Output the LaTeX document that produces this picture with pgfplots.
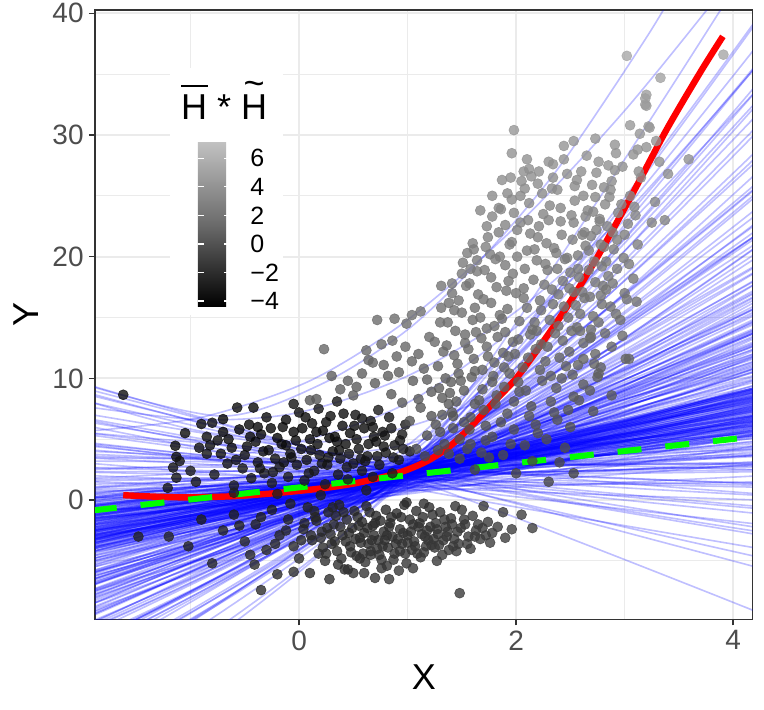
\documentclass[border=0pt]{standalone}
\usepackage{fontspec}
\setmainfont{Liberation Sans}
\usepackage{pgfplots}
\usepackage{pgfplotstable}
\pgfplotsset{compat=1.18}
\usetikzlibrary{calc}
\definecolor{gridc}{HTML}{EBEBEB}
\definecolor{bord}{HTML}{333333}
\definecolor{tickc}{HTML}{4D4D4D}
\definecolor{lgreen}{HTML}{00FF00}

\pgfplotstableread{
x y c
-1.62 8.65 -3.6
-1.21 1.0 -3.2
-1.16 2.67 -3.5
-1.13 3.55 -3.8
-1.14 4.46 -3.9
-1.10 3.2 -3.4
-1.13 1.84 -3.3
-1.00 2.4 -3.0
-0.90 6.25 -3.8
-0.80 6.35 -3.6
-0.70 6.65 -4.1
-0.57 7.6 -3.7
-0.42 7.6 -3.9
-0.95 1.5 -3.2
-0.85 3.8 -3.4
-0.78 2.1 -3.0
-0.75 4.9 -3.7
-0.70 5.6 -4.0
-0.66 3.0 -3.3
-0.62 4.3 -3.8
-0.60 1.2 -2.9
-0.55 5.8 -4.2
-0.52 2.6 -3.2
-0.50 3.7 -3.6
-0.46 6.2 -4.0
-0.44 1.8 -3.1
-0.40 4.8 -3.9
-0.38 3.1 -3.4
-0.35 5.4 -4.1
-0.32 2.2 -3.0
-0.30 6.8 -3.8
-0.28 4.1 -3.7
-0.25 1.4 -2.8
-0.22 3.4 -3.5
-0.20 5.1 -4.3
-0.18 2.7 -3.2
-0.15 6.0 -3.9
-0.12 4.5 -3.8
-0.10 1.9 -3.0
-0.08 3.8 -3.6
-0.05 5.6 -4.0
-0.02 2.9 -3.3
0.00 7.2 -3.7
0.02 4.2 -3.9
0.05 1.6 -2.9
0.07 3.3 -3.5
0.10 5.0 -4.1
0.12 6.3 -3.8
0.14 2.4 -3.1
0.17 4.6 -3.8
0.19 3.7 -3.6
0.22 5.7 -4.0
0.24 1.3 -2.7
0.26 2.9 -3.2
0.29 6.9 -3.6
0.31 4.0 -3.7
0.33 5.2 -3.9
0.36 2.1 -3.0
0.38 3.4 -3.4
0.40 6.1 -3.8
0.43 4.6 -3.7
0.45 1.7 -2.8
0.47 5.5 -3.9
0.50 3.0 -3.2
0.52 7.0 -3.5
0.55 4.2 -3.5
0.58 2.4 -3.0
0.60 5.9 -3.8
0.63 3.6 -3.3
0.66 6.5 -3.6
0.68 1.9 -2.7
0.71 4.8 -3.6
0.74 2.9 -3.1
0.77 5.6 -3.4
0.80 3.9 -3.3
0.83 6.8 -3.2
0.86 2.2 -2.8
0.88 4.5 -3.2
0.92 3.3 -3.0
0.95 5.4 -3.1
0.98 6.2 -3.0
1.02 4.0 -2.9
-0.60 0.6 -2.8
-0.20 0.5 -2.7
0.20 0.4 -2.6
0.62 0.8 -2.6
-0.05 7.9 -3.4
0.35 8.1 -3.2
0.73 7.4 -3.0
0.18 7.5 -3.3
-0.85 5.2 -3.7
-0.48 4.4 -3.8
-0.36 2.6 -3.3
-0.26 5.9 -4.1
-0.14 3.1 -3.5
-0.03 4.9 -3.9
0.09 2.2 -3.1
0.16 5.6 -4.0
0.27 3.5 -3.5
0.35 4.8 -3.8
0.44 2.7 -3.2
0.53 5.0 -3.7
0.61 3.2 -3.3
0.69 5.2 -3.6
0.78 4.4 -3.4
0.85 5.9 -3.4
0.93 4.9 -3.2
0.41 7.1 -3.6
0.58 6.7 -3.5
-0.12 6.6 -3.9
-0.65 5.0 -3.9
-0.92 4.3 -3.6
-1.05 5.5 -3.8
-0.58 3.3 -3.5
-0.45 5.2 -4.0
-0.33 4.0 -3.7
-0.24 2.3 -3.2
-0.16 4.6 -3.8
-0.07 3.5 -3.5
0.03 5.9 -4.1
0.11 4.1 -3.8
0.21 3.0 -3.4
0.28 5.1 -3.9
0.37 4.1 -3.7
0.46 3.8 -3.5
0.51 6.1 -3.8
0.57 3.4 -3.3
0.64 4.6 -3.5
0.72 3.6 -3.3
0.79 5.3 -3.4
0.87 3.5 -3.1
0.96 4.2 -3.0
0.25 6.4 -3.7
-0.38 6.0 -4.0
-0.72 3.8 -3.6
-0.82 4.5 -3.7
0.68 6.0 -3.4
0.06 6.8 -3.8
-1.48 -3.0 -2.6
-1.20 -3.0 -2.4
-1.02 -3.8 -2.5
-0.80 -5.2 -2.3
-0.41 -5.3 -2.1
-0.35 -7.4 -2.0
-0.20 -6.1 -2.2
-0.05 -5.9 -1.9
0.10 -6.0 -2.0
-0.90 -1.6 -2.7
-0.70 -2.5 -2.5
-0.60 -1.2 -2.8
-0.50 -3.4 -2.3
-0.40 -2.0 -2.6
-0.30 -4.1 -2.2
-0.25 -0.8 -2.7
-0.18 -2.9 -2.4
-0.10 -1.6 -2.5
-0.05 -3.8 -2.1
0.00 -4.8 -2.0
0.04 -2.4 -2.3
0.08 -0.6 -2.6
0.12 -3.3 -2.2
0.15 -1.4 -2.4
0.18 -4.4 -1.9
0.21 -2.6 -2.2
0.24 -5.0 -1.8
0.27 -1.0 -2.4
0.30 -3.6 -2.0
0.32 -2.0 -2.2
0.35 -4.2 -1.8
0.37 -0.4 -2.5
0.40 -2.9 -2.0
0.42 -5.7 -1.7
0.44 -1.6 -2.2
0.47 -3.8 -1.9
0.49 -2.3 -2.1
0.51 -0.9 -2.3
0.53 -4.6 -1.7
0.56 -3.1 -1.9
0.56 -4.8 -1.8
0.58 -1.8 -2.1
0.60 -2.7 -2.0
0.62 -0.5 -2.3
0.64 -3.6 -1.8
0.66 -4.2 -1.6
0.68 -2.1 -2.0
0.70 -6.4 -1.6
0.71 -1.3 -2.1
0.73 -3.3 -1.8
0.76 -4.9 -1.6
0.76 -5.6 -1.5
0.78 -2.6 -1.9
0.80 -0.8 -2.2
0.81 -5.4 -1.6
0.82 -3.9 -1.7
0.84 -1.9 -1.9
0.86 -3.0 -1.8
0.88 -4.4 -1.6
0.90 -1.1 -2.0
0.92 -5.8 -1.4
0.93 -2.4 -1.8
0.95 -3.6 -1.7
0.97 -0.4 -2.1
0.99 -5.2 -1.5
1.00 -2.9 -1.7
1.02 -1.6 -1.9
1.04 -4.1 -1.6
1.06 -3.4 -1.6
1.08 -0.9 -1.9
1.10 -2.2 -1.7
1.12 -4.7 -1.4
1.14 -1.4 -1.8
1.16 -3.0 -1.6
1.18 -2.5 -1.6
1.20 -0.6 -1.9
1.22 -3.7 -1.5
1.25 -3.9 -1.4
1.26 -1.9 -1.6
1.28 -2.8 -1.5
1.30 -1.0 -1.7
1.33 -3.3 -1.4
1.35 -2.2 -1.5
1.38 -4.1 -1.3
1.40 -1.5 -1.6
1.43 -3.2 -1.3
1.45 -4.2 -1.3
1.46 -2.6 -1.4
1.48 -7.65 -1.2
1.50 -0.8 -1.5
1.53 -2.0 -1.4
1.56 -3.0 -1.3
1.60 -1.3 -1.4
1.63 -2.5 -1.3
1.67 -3.2 -1.2
1.70 -0.5 -1.4
1.74 -1.8 -1.3
1.78 -2.7 -1.1
1.83 -2.2 -1.1
1.88 -1.0 -1.2
1.96 -2.4 -1.0
2.05 -1.2 -1.0
2.15 -2.3 -0.9
0.45 -5.7 -1.8
0.66 -4.5 -1.7
0.99 -0.2 -2.0
0.28 -6.5 -1.8
0.50 -6.0 -1.7
0.14 -0.9 -2.4
0.22 -3.9 -2.0
0.34 -1.3 -2.3
0.39 -4.8 -1.8
0.46 -2.7 -2.0
0.54 -1.4 -2.2
0.57 -3.5 -1.9
0.61 -5.1 -1.7
0.65 -1.0 -2.2
0.69 -2.9 -1.9
0.72 -4.0 -1.7
0.75 -1.7 -2.0
0.79 -3.3 -1.8
0.83 -2.2 -1.9
0.87 -4.9 -1.5
0.91 -3.2 -1.7
0.94 -1.4 -1.9
0.98 -4.4 -1.5
1.03 -2.6 -1.7
1.07 -3.8 -1.5
1.11 -1.9 -1.7
1.15 -4.3 -1.4
1.19 -3.3 -1.5
1.23 -1.2 -1.7
1.27 -2.4 -1.5
1.32 -4.5 -1.3
1.36 -3.0 -1.4
1.41 -2.0 -1.5
1.47 -3.6 -1.3
1.52 -1.6 -1.4
1.58 -4.0 -1.2
1.65 -2.0 -1.3
1.72 -2.9 -1.2
0.26 -2.3 -2.2
0.31 -0.6 -2.5
0.43 -3.4 -2.0
0.05 -1.9 -2.4
-0.12 -2.5 -2.4
-0.35 -1.4 -2.6
-0.55 -2.1 -2.6
0.11 -2.9 -2.2
0.16 -1.7 -2.4
0.20 -3.1 -2.1
0.25 -4.4 -1.9
0.29 -2.8 -2.1
0.33 -3.4 -2.0
0.38 -2.2 -2.2
0.41 -1.0 -2.4
0.48 -4.3 -1.8
0.52 -3.2 -1.9
0.55 -2.1 -2.1
0.59 -4.4 -1.7
0.63 -2.3 -2.0
0.67 -3.3 -1.8
0.70 -1.9 -2.0
0.74 -4.5 -1.6
0.77 -3.8 -1.7
0.81 -2.9 -1.8
0.85 -1.4 -2.0
0.89 -3.6 -1.7
0.93 -4.2 -1.5
0.96 -2.7 -1.7
1.00 -3.5 -1.6
1.05 -2.0 -1.7
1.09 -4.4 -1.4
1.13 -2.8 -1.6
1.17 -3.8 -1.4
1.21 -2.2 -1.6
1.24 -3.2 -1.5
1.29 -3.7 -1.4
1.34 -1.6 -1.5
1.37 -2.6 -1.4
1.42 -3.8 -1.3
1.49 -2.3 -1.4
1.55 -3.6 -1.2
1.62 -3.0 -1.2
1.69 -2.3 -1.2
1.76 -3.5 -1.1
0.36 -5.3 -1.8
0.60 -6.0 -1.6
0.83 -6.5 -1.4
1.05 -5.6 -1.4
1.27 -5.0 -1.3
0.02 -3.3 -2.2
-0.22 -3.6 -2.3
-0.45 -4.5 -2.2
-0.08 -0.3 -2.6
1.15 -0.3 -1.8
1.44 -0.5 -1.6
1.90 -3.1 -1.0
1.98 30.4 4.3
2.30 27.8 3.9
2.07 27.0 3.8
2.12 27.2 3.9
1.87 26.3 3.7
1.78 25.0 3.5
1.78 23.3 3.2
1.96 24.7 3.4
2.08 25.6 3.6
2.20 26.0 3.6
1.98 23.6 3.2
1.60 21.1 2.7
1.55 20.3 2.6
1.64 19.7 2.5
1.72 20.8 2.7
1.85 20.0 2.6
1.41 17.8 2.2
1.31 17.6 2.1
1.12 15.5 1.8
1.04 15.2 1.7
0.99 14.5 1.6
0.88 14.9 1.6
0.72 14.8 1.5
0.86 13.1 1.3
0.23 12.4 1.2
0.64 11.5 1.0
0.68 11.3 1.0
0.78 11.1 0.9
0.38 9.1 0.6
0.53 9.3 0.6
0.10 8.2 0.3
0.16 8.3 0.4
2.44 29.1 4.1
2.53 29.5 4.2
2.73 29.7 4.2
2.91 29.2 4.1
3.05 30.8 4.4
3.22 30.7 4.4
3.14 30.1 4.3
3.19 32.5 4.7
3.20 33.3 4.8
3.02 36.5 5.4
3.33 34.7 5.1
3.19 33.0 4.8
3.20 32.4 4.6
3.91 36.6 5.3
3.59 28.0 3.9
3.40 26.8 3.7
3.37 23.0 3.1
3.25 22.8 3.0
3.23 30.6 4.4
3.20 29.0 4.1
3.08 28.4 4.0
2.85 27.5 3.9
2.65 28.3 4.0
2.38 25.5 3.5
3.04 19.4 2.4
3.11 16.3 1.9
2.87 15.9 1.8
2.96 14.8 1.6
3.01 11.6 1.1
3.04 11.6 1.1
2.76 10.4 0.9
2.73 12.0 1.1
2.69 13.4 1.4
2.85 18.4 2.3
2.80 17.6 2.1
2.93 19.0 2.4
3.00 17.0 2.0
2.78 16.8 2.0
2.53 2.2 -0.6
2.71 7.3 0.3
2.88 8.6 0.5
2.75 10.1 0.8
2.76 14.6 1.6
2.68 13.3 1.4
2.57 11.1 1.0
2.53 8.5 0.5
2.50 6.0 0.1
2.45 4.3 -0.2
2.62 9.5 0.7
2.40 3.1 -0.4
2.30 1.5 -0.6
2.20 5.5 0.0
2.35 7.2 0.3
1.02 6.5 0.1
1.05 9.8 0.7
1.08 4.2 -0.3
1.10 12.0 1.0
1.12 7.6 0.3
1.15 10.8 0.8
1.18 5.3 -0.1
1.20 13.4 1.3
1.22 8.9 0.5
0.95 8.0 0.4
0.92 10.5 0.8
0.98 12.6 1.2
1.16 3.6 -0.4
1.04 11.4 1.0
1.26 6.2 0.1
1.28 11.0 0.9
1.30 14.6 1.5
1.32 8.4 0.5
1.34 4.6 -0.2
1.36 12.7 1.2
1.38 16.2 1.8
1.40 9.7 0.7
1.42 6.9 0.2
1.44 13.9 1.4
1.46 11.2 1.0
1.48 5.0 -0.1
1.50 15.4 1.7
1.35 10.0 0.7
1.45 8.1 0.4
1.52 9.0 0.5
1.54 17.6 2.1
1.56 12.4 1.2
1.58 6.8 0.2
1.60 14.8 1.6
1.62 10.6 0.9
1.64 18.8 2.3
1.66 8.2 0.4
1.68 13.3 1.3
1.70 16.5 1.9
1.72 4.9 -0.1
1.74 11.8 1.1
1.76 20.2 2.6
1.62 15.8 1.7
1.70 7.4 0.3
1.58 19.0 2.3
1.78 9.7 0.7
1.80 14.3 1.5
1.82 17.5 2.0
1.84 22.0 2.8
1.86 6.4 0.1
1.88 12.1 1.1
1.90 19.3 2.4
1.92 15.7 1.8
1.94 10.4 0.8
1.96 21.2 2.7
1.98 8.1 0.4
2.00 17.0 2.0
1.90 13.8 1.4
1.84 24.0 3.2
1.95 26.5 3.7
1.80 11.3 1.0
2.02 13.2 1.3
2.04 22.8 2.9
2.06 10.9 0.9
2.08 19.0 2.3
2.10 15.8 1.8
2.12 24.4 3.3
2.14 7.7 0.3
2.16 18.1 2.2
2.18 12.4 1.2
2.20 21.6 2.7
2.22 16.4 1.9
2.24 9.8 0.7
2.05 26.2 3.6
2.15 14.0 1.5
2.25 23.5 3.1
2.10 20.5 2.6
2.27 11.4 1.0
2.29 18.9 2.3
2.31 14.8 1.6
2.33 25.6 3.5
2.35 20.7 2.6
2.37 9.2 0.6
2.39 16.9 2.0
2.41 22.9 3.0
2.43 13.1 1.3
2.45 19.8 2.5
2.47 26.8 3.7
2.49 17.4 2.1
2.30 23.0 3.0
2.40 11.7 1.0
2.48 15.0 1.7
2.52 21.4 2.7
2.54 24.6 3.3
2.56 14.2 1.5
2.58 18.3 2.2
2.60 27.0 3.8
2.62 12.9 1.3
2.64 20.9 2.6
2.66 23.8 3.2
2.68 16.7 2.0
2.70 25.9 3.6
2.72 19.6 2.5
2.74 22.2 2.9
2.76 27.8 3.9
2.78 21.0 2.7
2.55 16.0 1.9
2.62 25.0 3.4
2.82 24.3 3.3
2.84 22.5 3.0
2.88 26.2 3.6
2.90 20.6 2.6
2.94 23.6 3.2
2.98 27.4 3.8
3.00 21.8 2.8
3.05 25.0 3.4
3.10 23.4 3.1
3.15 26.5 3.7
2.92 28.5 4.0
3.12 28.8 4.0
0.45 9.8 0.6
0.58 10.4 0.7
0.70 9.6 0.6
0.82 10.2 0.7
0.62 12.3 1.1
0.76 12.8 1.2
0.90 11.8 1.0
0.30 10.2 0.7
0.50 8.6 0.4
0.85 8.7 0.4
1.41 7.2 0.3
1.47 10.4 0.8
1.53 13.6 1.3
1.57 5.8 0.0
1.61 11.6 1.0
1.65 16.9 2.0
1.69 9.1 0.6
1.73 14.1 1.5
1.77 18.3 2.1
1.81 7.9 0.4
1.85 15.2 1.7
1.89 10.9 0.9
1.93 18.0 2.1
1.97 13.0 1.3
2.01 20.0 2.5
2.03 8.9 0.6
2.07 16.6 1.9
2.11 11.7 1.1
2.13 21.9 2.8
2.17 14.6 1.6
2.19 19.7 2.5
2.23 12.8 1.2
2.26 17.7 2.1
2.28 21.1 2.7
2.32 10.2 0.8
2.34 16.1 1.8
2.36 13.7 1.4
2.38 19.0 2.3
2.42 21.8 2.8
2.44 15.9 1.8
2.46 11.0 0.9
2.50 18.7 2.3
2.51 13.9 1.4
2.53 22.8 3.0
2.57 20.1 2.5
2.59 15.3 1.7
2.61 17.1 2.0
2.63 22.0 2.9
2.67 18.9 2.3
2.69 21.7 2.8
2.71 15.1 1.7
2.73 24.9 3.4
2.77 23.1 3.0
2.79 19.2 2.4
2.81 20.8 2.6
2.83 17.3 2.1
2.86 24.9 3.4
2.89 22.0 2.8
1.96 28.5 4.0
2.10 28.0 3.9
2.21 27.0 3.8
2.34 27.6 3.9
2.56 26.3 3.6
1.90 22.6 3.0
1.73 22.5 3.0
1.67 23.8 3.2
1.50 18.6 2.3
1.43 15.6 1.7
1.25 13.0 1.3
1.18 9.9 0.7
1.10 8.3 0.4
1.30 5.6 0.0
1.38 7.9 0.4
1.22 6.9 0.2
1.55 4.2 -0.3
1.75 3.5 -0.4
1.95 4.6 -0.2
2.15 3.2 -0.5
1.62 2.5 -0.6
2.00 2.2 -0.6
1.28 4.1 -0.2
1.32 7.0 0.3
1.29 9.2 0.6
1.33 12.2 1.2
1.31 15.8 1.8
1.38 3.8 -0.3
1.42 5.9 0.1
1.39 8.8 0.6
1.43 11.9 1.1
1.37 14.6 1.5
1.41 17.0 2.0
1.48 3.4 -0.4
1.52 6.4 0.2
1.49 9.8 0.8
1.53 12.9 1.3
1.47 16.4 1.9
1.51 19.5 2.4
1.58 4.6 -0.1
1.62 7.9 0.5
1.59 10.1 0.8
1.63 13.8 1.5
1.57 17.8 2.1
1.61 20.6 2.6
1.68 3.9 -0.2
1.72 6.1 0.1
1.69 10.7 0.9
1.73 12.6 1.2
1.67 15.0 1.7
1.71 18.9 2.3
1.74 21.6 2.7
1.78 5.2 0.0
1.82 8.6 0.6
1.79 10.2 0.8
1.83 13.4 1.4
1.77 16.2 1.8
1.81 19.8 2.5
1.86 23.9 3.2
1.88 3.7 -0.3
1.92 7.1 0.3
1.89 9.3 0.7
1.93 11.8 1.1
1.87 14.9 1.6
1.91 17.2 2.0
1.94 21.0 2.7
1.92 25.2 3.4
1.98 5.8 0.1
2.02 9.7 0.7
1.99 12.0 1.1
2.03 14.7 1.6
1.97 18.6 2.3
2.01 22.2 2.9
2.04 25.0 3.4
2.08 4.5 -0.2
2.12 6.9 0.3
2.09 9.0 0.6
2.13 13.6 1.4
2.07 17.4 2.1
2.11 23.0 3.0
2.14 26.6 3.7
2.18 6.2 0.1
2.22 10.7 0.9
2.19 13.9 1.5
2.23 15.6 1.8
2.17 20.6 2.6
2.21 22.5 2.9
2.24 25.2 3.4
2.28 5.0 0.0
2.32 8.1 0.5
2.29 12.6 1.2
2.33 17.3 2.0
2.27 19.4 2.4
2.31 24.2 3.2
2.34 26.5 3.6
2.38 6.6 0.2
2.42 10.0 0.8
2.39 14.3 1.5
2.43 18.0 2.2
2.37 20.3 2.5
2.41 24.0 3.2
2.44 28.0 3.9
2.48 7.4 0.3
2.52 10.3 0.8
2.49 12.2 1.1
2.53 17.1 2.0
2.47 19.9 2.5
2.51 23.4 3.1
2.54 25.8 3.5
2.58 8.2 0.5
2.62 11.6 1.0
2.59 13.9 1.5
2.63 16.6 1.9
2.57 19.0 2.3
2.61 21.8 2.8
2.64 23.3 3.1
2.68 9.0 0.6
2.72 11.2 1.0
2.69 14.0 1.5
2.73 17.9 2.1
2.67 20.5 2.6
2.71 23.7 3.1
2.74 26.9 3.7
2.78 10.9 0.9
2.82 13.7 1.4
2.79 16.1 1.8
2.83 19.6 2.4
2.77 22.9 3.0
2.81 25.7 3.5
2.88 12.6 1.2
2.92 15.3 1.7
2.89 17.8 2.1
2.93 21.4 2.7
2.87 25.5 3.4
2.91 27.1 3.7
2.98 13.5 1.4
3.02 16.5 1.9
2.99 19.9 2.5
3.03 22.7 3.0
2.97 24.3 3.2
3.08 18.2 2.2
3.12 21.0 2.7
3.09 24.1 3.2
3.13 27.0 3.7
3.28 24.5 3.3
3.32 27.8 3.9
3.29 29.5 4.1
}\pts

\pgfplotsset{
  bl/.style={blue, line width=0.8pt, opacity=0.25, smooth, no markers},
  bc/.style={blue, line width=1.2pt, opacity=0.45, smooth, no markers},
}
\newcommand{\barH}{\makebox[0pt][l]{\raisebox{0.9em}{\rule{0.74em}{0.055em}}}H}
\newcommand{\tilH}{\makebox[0pt][l]{\raisebox{0.66em}{\hspace{0.07em}\char"007E}}H}

\begin{document}
\begin{tikzpicture}
\path[use as bounding box] (-47.5pt,-44.85pt) rectangle (334.5pt,309.65pt);
\begin{axis}[
  at={(0,0)}, anchor=south west,
  width=328.85pt, height=304.65pt, scale only axis,
  xmin=-1.88, xmax=4.18, ymin=-9.8, ymax=40.27,
  xtick={0,2,4}, ytick={0,10,20,30,40},
  minor xtick={-1,1,3}, minor ytick={-5,5,15,25,35},
  grid=both,
  major grid style={color=gridc, line width=1.1pt},
  minor grid style={color=gridc, line width=0.55pt},
  tick align=outside, major tick length=3pt, minor tick length=0pt,
  tick pos=left,
  tick style={color=bord, line width=0.75pt},
  axis line style={color=bord, line width=0.75pt},
  ticklabel style={font=\fontsize{14}{16}\selectfont, text=tickc},
  xticklabel style={inner sep=0pt, yshift=-2.5pt},
  yticklabel style={inner sep=0pt, xshift=-2.5pt},
  /pgf/number format/assume math mode=true,
  xlabel={X}, ylabel={Y},
  label style={font=\fontsize{18}{20}\selectfont},
  xlabel style={at={(axis description cs:0.5,-0.0942)}, anchor=center},
  ylabel style={at={(axis description cs:-0.1049,0.5)}, anchor=center},
  colormap={bw}{gray(0cm)=(0); gray(1cm)=(0.42); gray(2cm)=(0.76)},
  point meta min=-4.4, point meta max=7.16,
  colorbar,
  colorbar style={
    at={($(parent axis.north west)+(42.85pt,-65.85pt)$)}, anchor=north west,
    width=16.3pt, height=82.5pt,
    grid=none,
    axis on top=true,
    ytick={-4,-2,0,2,4,6},
    yticklabels={−4,−2,0,2,4,6},
    ytick pos=both, yticklabel pos=right,
    tick align=inside, major tick length=3.2pt,
    ytick style={draw=white, line width=0.6pt},
    axis line style={draw=none},
    yticklabel style={font=\fontsize{12.5}{14}\selectfont, text=black, inner sep=0pt, xshift=9.85pt},
  },
]
\addplot[scatter, only marks, mark=*, mark size=2.5pt, scatter src=explicit,
  scatter/use mapped color={draw=mapped color, fill=mapped color, opacity=0.8, line width=0.3pt}]
  table[x=x, y=y, meta=c] {\pts};

% lower fan
\foreach \a/\b/\c in {-0.41/2.2/5.13, 0.1/2.0/5.13, 0.37/2.4/4.68, 0.48/1.8/4.28, 0.65/2.1/3.73,
  1.56/2.3/4.13, 1.03/1.9/2.88, 2.34/2.5/3.68, 1.71/2.0/2.33, 2.62/2.2/2.73, 2.28/1.7/1.05,
  4.11/2.4/2.48, 3.45/2.0/0.38, 5.47/2.6/1.38, 4.41/1.8/-1.13, 6.62/2.3/-0.54, 6.35/2.0/-2.88,
  8.56/2.5/-2.29, 8.7/1.9/-4.72, 8.0/2.0/-5.6, 9.0/1.8/-9.3, -0.29/1.6/3.71, 1.1/2.7/4.49,
  0.9/1.5/3.17, 2.66/2.8/2.96, -0.92/1.4/4.0, -1.22/2.1/4.82, 0.24/2.4/3.82, -1.49/1.7/5.28,
  3.61/2.9/3.1, 5.32/2.0/-0.72, 3.76/2.6/1.3, 0.17/1.9/2.83, -1.28/2.2/6.1, -2.47/1.3/5.53,
  -2.93/1.0/6.41, 9.36/2.3/-2.62, 4.68/2.1/1.21,
  0.8/1.0/3.0, 1.5/0.8/2.0, 0.2/0.7/4.5, -0.8/0.5/5.5, 2.0/1.2/1.5, 3.0/1.1/0.0, 4.5/1.3/-2.0,
  6.0/1.0/-4.0, 3.2/3.2/4.2, 4.0/3.0/3.0, 5.5/3.4/2.5, 7.0/3.0/0.5, 2.5/3.6/5.5, 1.8/3.3/6.5,
  -0.2/1.8/4.9, -0.7/1.9/5.3, 0.6/2.2/4.4, 1.3/2.2/3.6, 0.0/2.5/5.6, -1.0/1.6/5.4}{%
  \edef\tmp{\noexpand\addplot[bl] coordinates {(-1.9,\a) (1.0,\b) (4.25,\c)};}\tmp
}
% upper fan
\foreach \a/\b/\c in {-4.83/2.0/10.66, -4.2/2.5/12.0, -6.48/1.8/12.08, -5.82/2.2/14.18,
  -7.81/1.5/13.94, -4.22/2.8/14.66, -8.18/2.0/15.41, -7.52/2.4/17.51, -9.22/1.7/16.93,
  -5.34/3.0/17.34, -9.17/2.2/18.94, -9.92/1.9/20.14, -9.38/2.6/22.02, -11.43/2.0/23.05,
  -12.16/2.3/25.5, -13.69/1.8/27.15, -13.6/2.5/30.53, -14.6/2.1/32.82, -14.61/2.7/36.09,
  -17.37/2.0/39.7, -18.19/2.4/45.46, -6.52/1.6/10.7, -3.22/2.9/11.76, -6.92/2.1/14.21,
  -8.52/1.4/16.51, -8.51/2.7/18.26, -7.62/3.2/21.32, -11.48/1.5/21.04, -11.26/2.2/25.27,
  -11.59/2.9/28.13, -8.32/1.7/13.93, -6.29/2.5/18.35, -7.77/3.4/25.91, -10.23/3.6/33.09,
  -8.08/1.2/11.6, -4.31/2.0/14.07, -7.43/3.0/23.68, -11.96/2.6/22.91, -10.02/1.9/17.26,
  -4.33/2.3/16.73, -10.38/3.8/37.68, -14.28/2.8/39.93, -6.67/4.0/31.95, -5.94/4.5/36.19,
  -5.53/2.3/11.08, -6.57/2.0/12.61, -5.39/2.6/12.56, -6.93/1.8/13.59, -7.33/2.4/14.31,
  -7.37/2.1/15.71, -3.26/2.7/10.38, -4.22/1.9/10.76,
  -2.0/0.8/6.5, -1.5/1.2/6.0, -3.0/0.9/8.0, -2.5/1.5/8.8, -4.0/1.0/10.0, -3.5/1.6/11.0,
  -5.0/1.3/12.5, -4.5/2.8/13.0, -6.0/3.2/15.5, -5.5/1.0/12.0, -1.0/3.0/9.5, -0.5/3.3/8.5,
  0.5/3.5/8.0, 1.0/3.1/7.0, -2.2/3.4/11.5, -3.2/3.0/12.2, -6.8/2.6/17.0, -7.0/3.5/19.5,
  -8.5/3.1/22.0, -9.5/3.3/26.0, -10.5/2.9/29.0, -12.0/3.0/34.0, -2.8/0.6/7.0, -3.8/0.7/9.0,
  -4.8/0.9/11.0, -6.2/1.1/13.5, -7.5/0.9/15.0, -9.0/1.2/18.0, -1.8/2.8/9.8, -2.7/2.9/10.9,
  -3.9/2.6/11.4, -4.6/2.2/12.2, -5.2/2.5/13.2, -6.1/2.4/14.8, -3.3/1.2/9.6, -4.2/1.9/10.3,
  -5.0/2.1/11.3, -5.8/2.4/12.9, -6.3/1.9/13.1, -7.0/2.2/14.9, -7.9/2.5/16.0, -8.8/2.0/16.2,
  -9.4/2.3/18.0, -10.1/2.6/19.4, -10.8/2.1/20.5, -11.7/2.4/22.4, -12.5/2.2/24.2, -13.0/2.7/26.3,
  -14.0/2.3/28.5, -15.2/2.6/31.0, -16.0/2.2/34.5, -4.0/2.4/10.0, -4.6/1.7/11.9, -5.9/1.5/12.9,
  -6.8/1.9/15.1, -8.0/1.6/16.0, -3.5/2.9/12.8, -4.8/3.1/15.9, -6.5/3.3/19.0, -8.9/2.9/21.8,
  -2.9/2.6/10.1, -3.9/2.3/11.2, -5.1/2.7/13.9, -6.0/2.0/13.7}{%
  \edef\tmp{\noexpand\addplot[bl] coordinates {(-1.9,\a) (1.0,\b) (4.25,\c)};}\tmp
}
% strongly curved lines
\addplot[bl] coordinates {(-1.9,9.3) (-0.7,6.9) (0.2,9.5) (1.0,14.0) (1.7,20.0) (2.4,27.4) (3.2,38) (3.6,44)};
\addplot[bl] coordinates {(-1.9,7.6) (-0.9,6.6) (0.0,7.2) (1.0,10.2) (2.0,15.5) (3.0,23.5) (4.25,36)};
\addplot[bl] coordinates {(-1.9,5.7) (-0.9,6.8) (0.1,9.8) (1.0,14.8) (2.0,22.5) (3.0,32.0) (4.0,43)};
\addplot[bl] coordinates {(-1.9,3.5) (-0.5,3.8) (1.0,8.0) (2.5,18.0) (4.25,34.0)};
\addplot[bl] coordinates {(-1.9,8.0) (-0.8,5.5) (0.5,5.0) (2.0,9.5) (4.25,22.0)};
\addplot[bl] coordinates {(-1.9,6.5) (-0.3,4.0) (1.0,4.6) (2.5,10.5) (4.25,21.0)};
\addplot[bl] coordinates {(-1.9,4.6) (0.0,3.2) (1.5,4.6) (4.25,14.0)};
% dense core
\foreach \a/\b/\c in {-0.1/2.35/5.4, -0.4/2.35/5.7, -0.6/2.3/5.9, -0.8/2.3/6.1, -1.0/2.3/6.3,
  -1.2/2.3/6.5, -1.4/2.3/6.7, -1.6/2.25/6.9, -1.8/2.25/7.1, -2.0/2.2/7.3, -2.2/2.2/7.5,
  -2.4/2.2/7.7, -2.6/2.2/7.9, -2.8/2.15/8.1, -3.0/2.15/8.3, -3.2/2.1/8.5, -3.4/2.1/8.7,
  -3.6/2.1/8.9, -3.8/2.1/9.1, -4.0/2.05/9.3, -2.9/2.5/9.0, -2.5/2.55/8.6, -2.0/2.6/8.2,
  -3.3/2.4/9.2, -1.7/2.0/7.8, -2.3/2.4/8.4, -3.6/2.5/9.3, -1.3/2.4/7.4, -0.5/2.2/6.6,
  -1.1/2.45/7.0, -1.5/1.35/5.8, -2.6/1.7/6.8, 0.2/2.85/6.2, -3.1/1.8/7.6}{%
  \edef\tmp{\noexpand\addplot[bc] coordinates {(-1.9,\a) (1.0,\b) (4.25,\c)};}\tmp
}

\addplot[red, line width=3.2pt, smooth, no markers] coordinates {
(-1.62,0.40) (-1.3,0.27) (-1.0,0.22) (-0.6,0.32) (-0.2,0.58) (0.2,0.95) (0.5,1.35)
(0.8,1.95) (1.0,2.5) (1.2,3.3) (1.4,4.5) (1.6,6.2) (1.8,8.1) (2.0,10.0) (2.2,12.4)
(2.47,15.9) (2.77,20.3) (3.08,25.3) (3.39,30.5) (3.70,35.2) (3.905,38.1)};
\addplot[lgreen, line width=3pt, dash pattern=on 12pt off 12pt, no markers] coordinates {
(-1.9,-0.85) (4.25,5.27)};

\fill[white] (axis description cs:0.114,0.9048) rectangle (axis description cs:0.2858,0.4994);
\node[anchor=base west, inner sep=0pt, font=\fontsize{18}{20}\selectfont]
  at (axis description cs:0.1303,0.8206) {\barH{} * \tilH};
\end{axis}
\end{tikzpicture}
\end{document}
